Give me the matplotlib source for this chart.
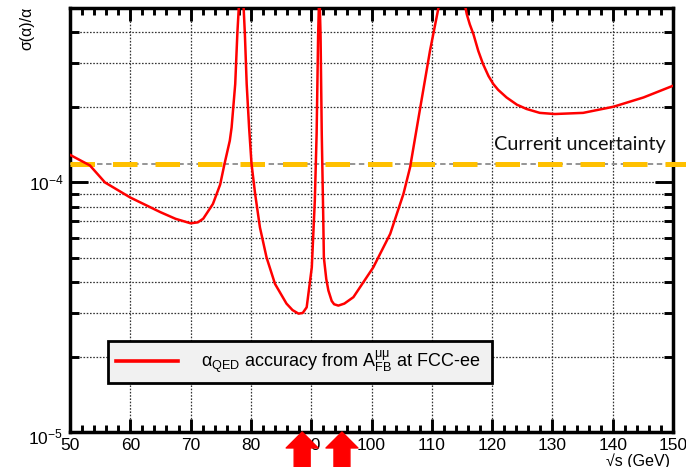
import matplotlib
matplotlib.use("Agg")
import matplotlib.pyplot as plt
from matplotlib.ticker import MultipleLocator, LogLocator, NullFormatter
from matplotlib.transforms import ScaledTranslation

plt.rcParams['font.family'] = ['Liberation Sans', 'DejaVu Sans']
plt.rcParams['mathtext.fontset'] = 'custom'
plt.rcParams['mathtext.rm'] = 'Liberation Sans'
plt.rcParams['mathtext.it'] = 'Liberation Sans:italic'
plt.rcParams['mathtext.bf'] = 'Liberation Sans:bold'

# ---- data ----
sqrt_s = [50, 53.3, 55.8, 60, 65, 67.5, 70, 71.2, 72.1, 73.7, 74.9, 75.6, 76.5, 76.8,
          77.4, 77.75, 78.1, 78.4, 78.7, 79.0, 79.3, 79.7, 80.1, 80.7, 81.5, 82.6, 84.0,
          85.9, 86.9, 87.9, 88.6, 89.25, 90.1, 90.6, 90.9, 91.15, 91.35, 91.55, 91.75,
          92.0, 92.1, 92.5, 92.85, 93.4, 93.8, 94.5, 95.5, 97.0, 100.3, 103.1, 105.3,
          106.4, 108.0, 109.7, 111.1, 111.8, 113.5, 115.2, 115.8, 116.3, 116.9, 117.7,
          118.5, 119.4, 120.2, 121.0, 122.4, 124.1, 125.7, 127.9, 130.4, 135.1, 140.1,
          145.1, 150]
accuracy = [1.29e-4, 1.17e-4, 1.0e-4, 8.7e-5, 7.6e-5, 7.15e-5, 6.86e-5, 6.92e-5, 7.16e-5,
            8.2e-5, 9.8e-5, 1.18e-4, 1.47e-4, 1.66e-4,
            2.48e-4, 3.94e-4, 5.6e-4, 5.3e-4, 5.6e-4, 3.94e-4, 2.48e-4, 1.66e-4, 1.19e-4,
            9.0e-5, 6.6e-5, 5.0e-5, 3.92e-5,
            3.27e-5, 3.08e-5, 2.98e-5, 3.0e-5, 3.16e-5, 4.57e-5, 8.45e-5, 1.57e-4, 3.9e-4,
            6.0e-4, 3.9e-4, 1.57e-4,
            7.2e-5, 5.0e-5, 4.1e-5, 3.69e-5, 3.35e-5, 3.25e-5, 3.21e-5, 3.27e-5, 3.47e-5,
            4.57e-5, 6.22e-5, 9.0e-5,
            1.15e-4, 1.94e-4, 3.37e-4, 5.0e-4, 6.5e-4, 1.5e-3, 5.6e-4, 4.72e-4, 4.3e-4,
            3.93e-4, 3.37e-4,
            2.98e-4, 2.67e-4, 2.48e-4, 2.35e-4, 2.19e-4, 2.05e-4, 1.97e-4, 1.9e-4, 1.88e-4,
            1.9e-4, 2.01e-4,
            2.19e-4, 2.44e-4]
current_x = [50, 152.2]
current_unc = [1.19e-4, 1.19e-4]
arrow_x = [88.5, 95.1]
xlim = (50, 150)
ylim = (1e-5, 5e-4)

fig = plt.figure(figsize=(6.86, 4.67), dpi=100)
ax = fig.add_axes([70/686, 35/467, 603/686, 424/467])

ax.set_yscale('log')
ax.set_xlim(*xlim)
ax.set_ylim(*ylim)

# grid
gkw = dict(color='#333333', linestyle=(0, (1.3, 1.3)), linewidth=0.9)
ax.grid(which='major', axis='x', **gkw)
ax.grid(which='both', axis='y', **gkw)
ax.set_axisbelow(True)

# current uncertainty line (grey dashed under yellow dashes)
ax.plot(current_x, current_unc, color='#8c8c8c', linewidth=1.3,
        linestyle=(0, (3, 2)), clip_on=False, zorder=3)
ax.plot(current_x, current_unc, color='#FFC000', linewidth=3.6,
        linestyle=(0, (4.9, 3.6)), dash_capstyle='butt',
        clip_on=False, zorder=4)

# red curve
line, = ax.plot(sqrt_s, accuracy, color='#ff0000', linewidth=1.8, zorder=5,
                solid_joinstyle='round')

ax.text(148.8, 1.31e-4, 'Current uncertainty', fontsize=14.3, family=['Lato', 'DejaVu Sans'],
        ha='right', va='bottom', color='#111111', zorder=6)

# ticks
ax.xaxis.set_major_locator(MultipleLocator(10))
ax.xaxis.set_minor_locator(MultipleLocator(2))
ax.yaxis.set_major_locator(LogLocator(base=10, numticks=10))
ax.yaxis.set_minor_locator(LogLocator(base=10, subs=range(2, 10), numticks=20))
ax.yaxis.set_minor_formatter(NullFormatter())
ax.tick_params(which='both', direction='in', top=True, right=True, width=2.1,
               labelsize=12.5, color='black')
ax.tick_params(axis='x', which='major', length=9.4, pad=4)
ax.tick_params(axis='x', which='minor', length=5)
ax.tick_params(axis='y', which='major', length=13, pad=4)
ax.tick_params(axis='y', which='minor', length=6.5)
for sp in ax.spines.values():
    sp.set_linewidth(2.5)

# axis labels
fig.text(27/686, 1 - 7/467, 'σ(α)/α', rotation=90, ha='center', va='top', fontsize=11.5)
fig.text(670/686, 1 - 453/467, '√s (GeV)', ha='right', va='top', fontsize=11.5)

# legend
leg = ax.legend([line], [r'α$_{\mathrm{QED}}$ accuracy from A$_{\mathrm{FB}}^{\mathrm{μμ}}$ at FCC-ee'],
                loc='center left', bbox_to_anchor=(0.063, 0.1156, 0.637, 0.099),
                mode='expand', fontsize=13, frameon=True, fancybox=False,
                handlelength=3.4, handletextpad=1.3, borderpad=0.45, borderaxespad=0)
leg.get_frame().set_facecolor('#f1f1f1')
leg.get_frame().set_edgecolor('black')
leg.get_frame().set_linewidth(2.0)
leg.get_frame().set_alpha(1)
leg.get_lines()[0].set_linewidth(2.6)
leg.set_zorder(7)

# red arrows below the axis
for xa in arrow_x:
    ax.annotate('', xy=(xa, 0.0), xycoords=('data', 'axes fraction'),
                xytext=(xa, -0.09), textcoords=('data', 'axes fraction'),
                arrowprops=dict(arrowstyle='simple,head_length=0.5,head_width=1.0,tail_width=0.5',
                                mutation_scale=23, color='#ff0000', shrinkA=0, shrinkB=0),
                annotation_clip=False)

# the lowest y label sits a little below its tick, as in the reference
fig.canvas.draw()
for tick in ax.yaxis.get_major_ticks():
    if abs(tick.get_loc() - ylim[0]) < 1e-12:
        tick.label1.set_transform(tick.label1.get_transform() +
                                  ScaledTranslation(-2/100, -4/100, fig.dpi_scale_trans))

fig.savefig('out.png', dpi=100)
